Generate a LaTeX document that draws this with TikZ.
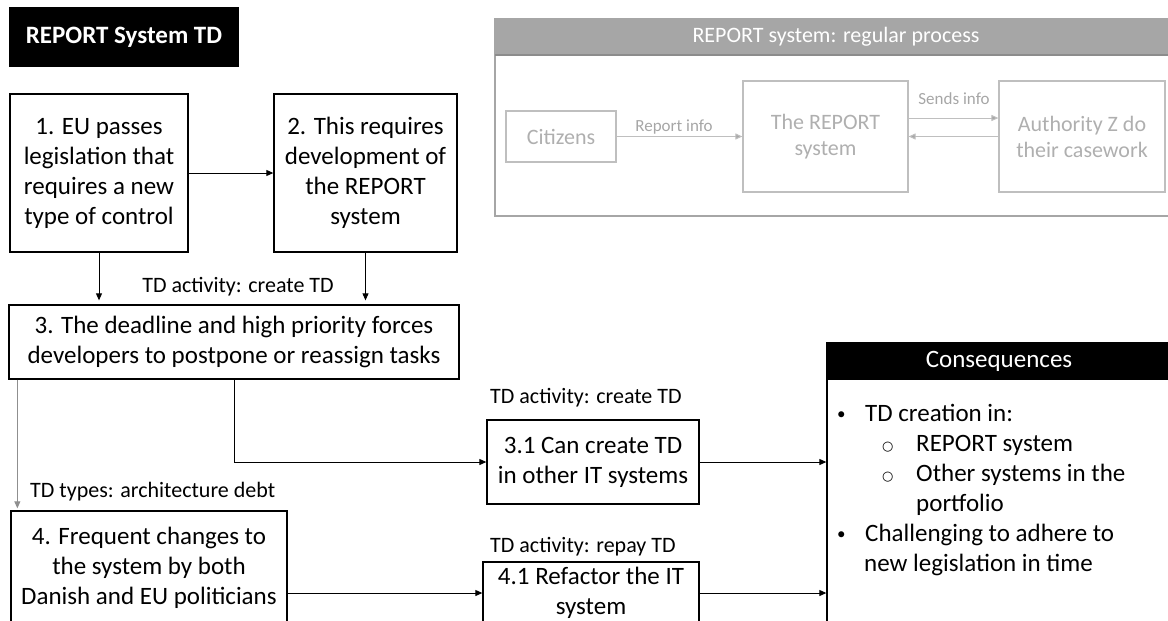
\documentclass[tikz,border=0pt]{standalone}
\usepackage{fontspec}
\setmainfont{Carlito}
\newfontfamily\symbolfont{DejaVu Sans}
\usetikzlibrary{arrows.meta}

\definecolor{framegray}{HTML}{A6A6A6}
\definecolor{bandline}{HTML}{8C8C8C}
\definecolor{paleline}{HTML}{BFBFBF}
\definecolor{paletext}{HTML}{AFAFAF}
\definecolor{linkgray}{HTML}{8F8F8F}

% list markers
\newcommand{\dotmark}{\makebox[28pt][l]{\raisebox{1.5pt}{\fontsize{17}{17}\selectfont •}}}
\newcommand{\ringmark}{\makebox[34pt][l]{\raisebox{1pt}{\symbolfont\fontsize{13}{13}\selectfont ○}}}

\tikzset{
  stepbox/.style={draw=black, line width=1.3pt, inner sep=0pt, align=center,
    font={\fontsize{25}{30}\selectfont}},
  headbar/.style={fill=black, text=white, inner sep=0pt,
    font={\fontsize{25}{30}\selectfont}},
  palebox/.style={draw=paleline, line width=1.2pt, inner sep=0pt, align=center,
    text=paletext, font={\fontsize{22}{26}\selectfont}},
  tag/.style={inner sep=0pt, font={\fontsize{22}{26}\selectfont}},
  paletag/.style={inner sep=0pt, text=framegray, font={\fontsize{17}{20}\selectfont}},
  listline/.style={inner sep=0pt, anchor=base west, font={\fontsize{25}{30}\selectfont}},
  link/.style={draw=black, line width=0.9pt, -{Triangle[length=7pt,width=6pt]}},
  palelink/.style={draw=paleline, line width=1pt, -{Triangle[length=7pt,width=6pt,fill=framegray]}}
}

\begin{document}
\begin{tikzpicture}[x=1pt,y=-1pt]
\useasboundingbox (0,0) rectangle (1168,621);

% title
\node[headbar, minimum width=230pt, minimum height=60pt,
      font={\fontsize{25}{30}\selectfont\bfseries}] (title) at (124,37) {REPORT System TD};

% regular process panel
\draw[framegray, line width=1.3pt] (495,19) rectangle (1177,216);
\fill[framegray] (495,19) rectangle (1177,55);
\draw[bandline, line width=1.2pt] (495,55) -- (1177,55);
\node[tag, text=white] (band) at (836,37) {REPORT system: regular process};

\node[palebox, minimum width=110pt, minimum height=51pt] (cit) at (561,136.5) {Citizens};
\node[palebox, minimum width=165pt, minimum height=111pt] (rep) at (825.5,136.5) {The REPORT\\system};
\node[palebox, minimum width=166pt, minimum height=111pt] (auth) at (1082,136.5) {Authority Z do\\their casework};

\draw[palelink] (cit.east) -- (rep.west);
\node[paletag] (lreport) at (674,127) {Report info};
\coordinate (sendA) at ([yshift=18.5pt]rep.east);
\draw[palelink] (sendA) -- (sendA -| auth.west);
\node[paletag] (lsends) at (954,99) {Sends info};
\draw[palelink] (auth.west) -- (rep.east);

% process steps
\node[stepbox, minimum width=178pt, minimum height=158pt] (s1) at (99,173)
  {1. EU passes\\legislation that\\requires a new\\type of control};
\node[stepbox, minimum width=183pt, minimum height=158pt] (s2) at (365.5,173)
  {2. This requires\\development of\\the REPORT\\system};
\node[stepbox, minimum width=450pt, minimum height=74pt] (s3) at (234,342)
  {3. The deadline and high priority forces\\developers to postpone or reassign tasks};
\node[stepbox, minimum width=212pt, minimum height=84pt] (s31) at (593,462)
  {3.1 Can create TD\\in other IT systems};
\node[stepbox, minimum width=276pt, minimum height=114pt] (s4) at (149,568)
  {4. Frequent changes to\\the system by both\\Danish and EU politicians};
\node[stepbox, minimum width=216pt, minimum height=62pt] (s41) at (591,593)
  {4.1 Refactor the IT\\system};

\draw[link] (s1.east) -- (s2.west);
\draw[link, shorten >=4pt] (s1.south) -- (s1.south |- s3.north);
\draw[link, shorten >=4pt] (s2.south) -- (s2.south |- s3.north);
\node[tag] (lcreate1) at (238,287) {TD activity: create TD};

\draw[link] (s3.south) |- (s31.west);
\node[tag, anchor=west] (lcreate2) at (490,398) {TD activity: create TD};

\coordinate (s3drop) at ([xshift=9pt]s3.south west);
\draw[link, draw=linkgray, shorten >=2pt] (s3drop) -- (s3drop |- s4.north);
\node[tag, anchor=west] (ltypes) at (30,492) {TD types: architecture debt};

\draw[link] (s41.west -| s4.east) -- (s41.west);
\node[tag, anchor=west] (lrepay) at (490,547) {TD activity: repay TD};

% consequences
\node[draw=black, line width=1.3pt, minimum width=344pt, minimum height=297pt,
      inner sep=0pt] (cons) at (999,491.5) {};
\node[headbar, minimum width=344pt, minimum height=37pt] (conshead) at (999,361.5) {Consequences};

\draw[link] (s31.east) -- (s31.east -| cons.west);
\draw[link] (s41.east) -- (s41.east -| cons.west);

\node[listline] (c1) at (837,421) {\dotmark TD creation in:};
\node[listline] (c2) at (836,451) {\hspace*{46pt}\ringmark REPORT system};
\node[listline] (c3) at (836,481) {\hspace*{46pt}\ringmark Other systems in the};
\node[listline] (c4) at (836,511) {\hspace*{80pt}portfolio};
\node[listline] (c5) at (837,541) {\dotmark Challenging to adhere to};
\node[listline] (c6) at (836,571) {\hspace*{28pt}new legislation in time};
\end{tikzpicture}
\end{document}
